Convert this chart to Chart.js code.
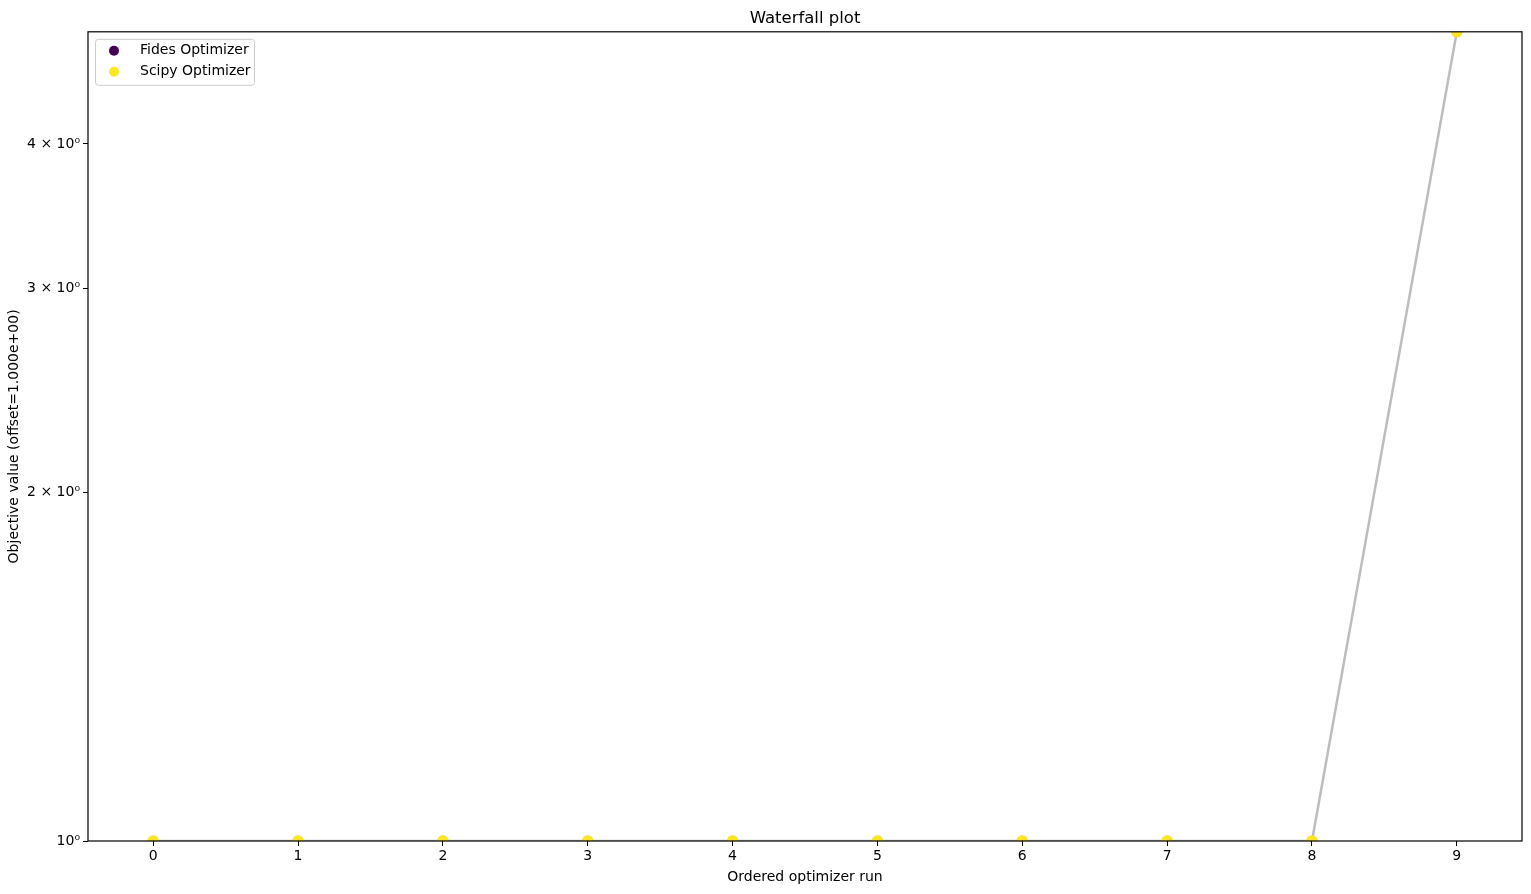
<!DOCTYPE html>
<html>
<head>
<meta charset="utf-8">
<script src="https://cdn.jsdelivr.net/npm/chart.js@4/dist/chart.umd.min.js"></script>
<style>
  html, body { margin: 0; padding: 0; background: #fff; }
  canvas { display: block; }
</style>
</head>
<body>
<canvas id="waterfall" width="1531" height="894"></canvas>
<script>
// ordered runs and objective values (offset already removed)
var runs = [0, 1, 2, 3, 4, 5, 6, 7, 8, 9];
var scipyValues = [1, 1, 1, 1, 1, 1, 1, 1, 1, 5];
var fidesValues = [];
var yTicks = [1, 2, 3, 4];
var yTickLabels = ["10\u2070", "2 \u00d7 10\u2070", "3 \u00d7 10\u2070", "4 \u00d7 10\u2070"];

var FONT = "'DejaVu Sans', sans-serif";

// legend inside the axes, top-left, like matplotlib
var boxLegend = {
  id: "boxLegend",
  afterDraw: function(chart) {
    var ctx = chart.ctx;
    var area = chart.chartArea;
    var x = area.left + 7, y = area.top + 7, w = 159, h = 46;
    ctx.save();
    ctx.fillStyle = "rgba(255,255,255,0.8)";
    ctx.strokeStyle = "#cccccc";
    ctx.lineWidth = 1;
    ctx.beginPath();
    ctx.roundRect(x + 0.5, y + 0.5, w, h, 3);
    ctx.fill();
    ctx.stroke();
    var items = chart.data.datasets.filter(function(d) { return d.inLegend; });
    ctx.font = "14px " + FONT;
    ctx.textBaseline = "middle";
    items.forEach(function(d, i) {
      var cy = y + 12 + i * 21;
      ctx.fillStyle = d.backgroundColor;
      ctx.beginPath();
      ctx.arc(x + 19, cy, 5, 0, Math.PI * 2);
      ctx.fill();
      ctx.fillStyle = "#000";
      ctx.fillText(d.label, x + 45, cy);
    });
    ctx.restore();
  }
};

// spines on all four sides, title centred over the axes
var spines = {
  id: "spines",
  afterLayout: function(chart) {
    var a = chart.chartArea;
    if (chart.titleBlock) {
      chart.titleBlock.left = a.left;
      chart.titleBlock.right = a.right;
      chart.titleBlock.width = a.right - a.left;
    }
  },
  afterDatasetsDraw: function(chart) {
    var ctx = chart.ctx;
    var a = chart.chartArea;
    ctx.save();
    ctx.strokeStyle = "#000";
    ctx.lineWidth = 1.2;
    ctx.strokeRect(a.left, a.top, a.right - a.left, a.bottom - a.top);
    ctx.restore();
  }
};

var ctx = document.getElementById("waterfall").getContext("2d");
var chart = new Chart(ctx, {
  type: "scatter",
  data: {
    datasets: [
      {
        label: "line",
        type: "line",
        data: runs.map(function(r, i) { return { x: r, y: scipyValues[i] }; }),
        borderColor: "#bdbdbd",
        borderWidth: 2.5,
        pointRadius: 0,
        fill: false,
        clip: 0,
        order: 3
      },
      {
        label: "Fides Optimizer",
        inLegend: true,
        data: fidesValues.map(function(v, i) { return { x: runs[i], y: v }; }),
        backgroundColor: "#440154",
        borderWidth: 0,
        pointRadius: 5,
        clip: 0,
        order: 2
      },
      {
        label: "Scipy Optimizer",
        inLegend: true,
        data: runs.map(function(r, i) { return { x: r, y: scipyValues[i] }; }),
        backgroundColor: "#fde725",
        borderColor: "#e8d420",
        borderWidth: 0.5,
        pointRadius: 5.5,
        clip: 0,
        order: 1
      }
    ]
  },
  options: {
    responsive: false,
    animation: false,
    devicePixelRatio: 1,
    layout: { padding: { left: 0, right: 9, top: 0, bottom: 0 } },
    plugins: {
      legend: { display: false },
      tooltip: { enabled: false },
      title: {
        display: true,
        text: "Waterfall plot",
        color: "#000",
        font: { family: FONT, size: 16.5, weight: "normal" },
        padding: { top: 9, bottom: 3 }
      }
    },
    scales: {
      x: {
        type: "linear",
        min: -0.45,
        max: 9.45,
        afterBuildTicks: function(scale) {
          scale.ticks = runs.map(function(r) { return { value: r }; });
        },
        afterFit: function(scale) { scale.height = 53; },
        ticks: {
          color: "#000",
          font: { family: FONT, size: 14 },
          padding: 2,
          maxRotation: 0
        },
        grid: { display: true, drawOnChartArea: false, tickLength: 5, tickColor: "#000" },
        border: { display: false },
        title: {
          display: true,
          text: "Ordered optimizer run",
          color: "#000",
          font: { family: FONT, size: 14 },
          padding: { top: 0, bottom: 8 }
        }
      },
      y: {
        type: "logarithmic",
        min: 1,
        max: 5,
        afterBuildTicks: function(scale) {
          scale.ticks = yTicks.map(function(v) { return { value: v }; });
        },
        afterFit: function(scale) { scale.width = 88; },
        ticks: {
          color: "#000",
          font: { family: FONT, size: 14 },
          padding: 3,
          callback: function(v) {
            var i = yTicks.indexOf(v);
            return i >= 0 ? yTickLabels[i] : "";
          }
        },
        grid: { display: true, drawOnChartArea: false, tickLength: 5, tickColor: "#000" },
        border: { display: false },
        title: {
          display: true,
          text: "Objective value (offset=1.000e+00)",
          color: "#000",
          font: { family: FONT, size: 14 },
          padding: { top: 6, bottom: 0 }
        }
      }
    }
  },
  plugins: [spines, boxLegend]
});
</script>
</body>
</html>
